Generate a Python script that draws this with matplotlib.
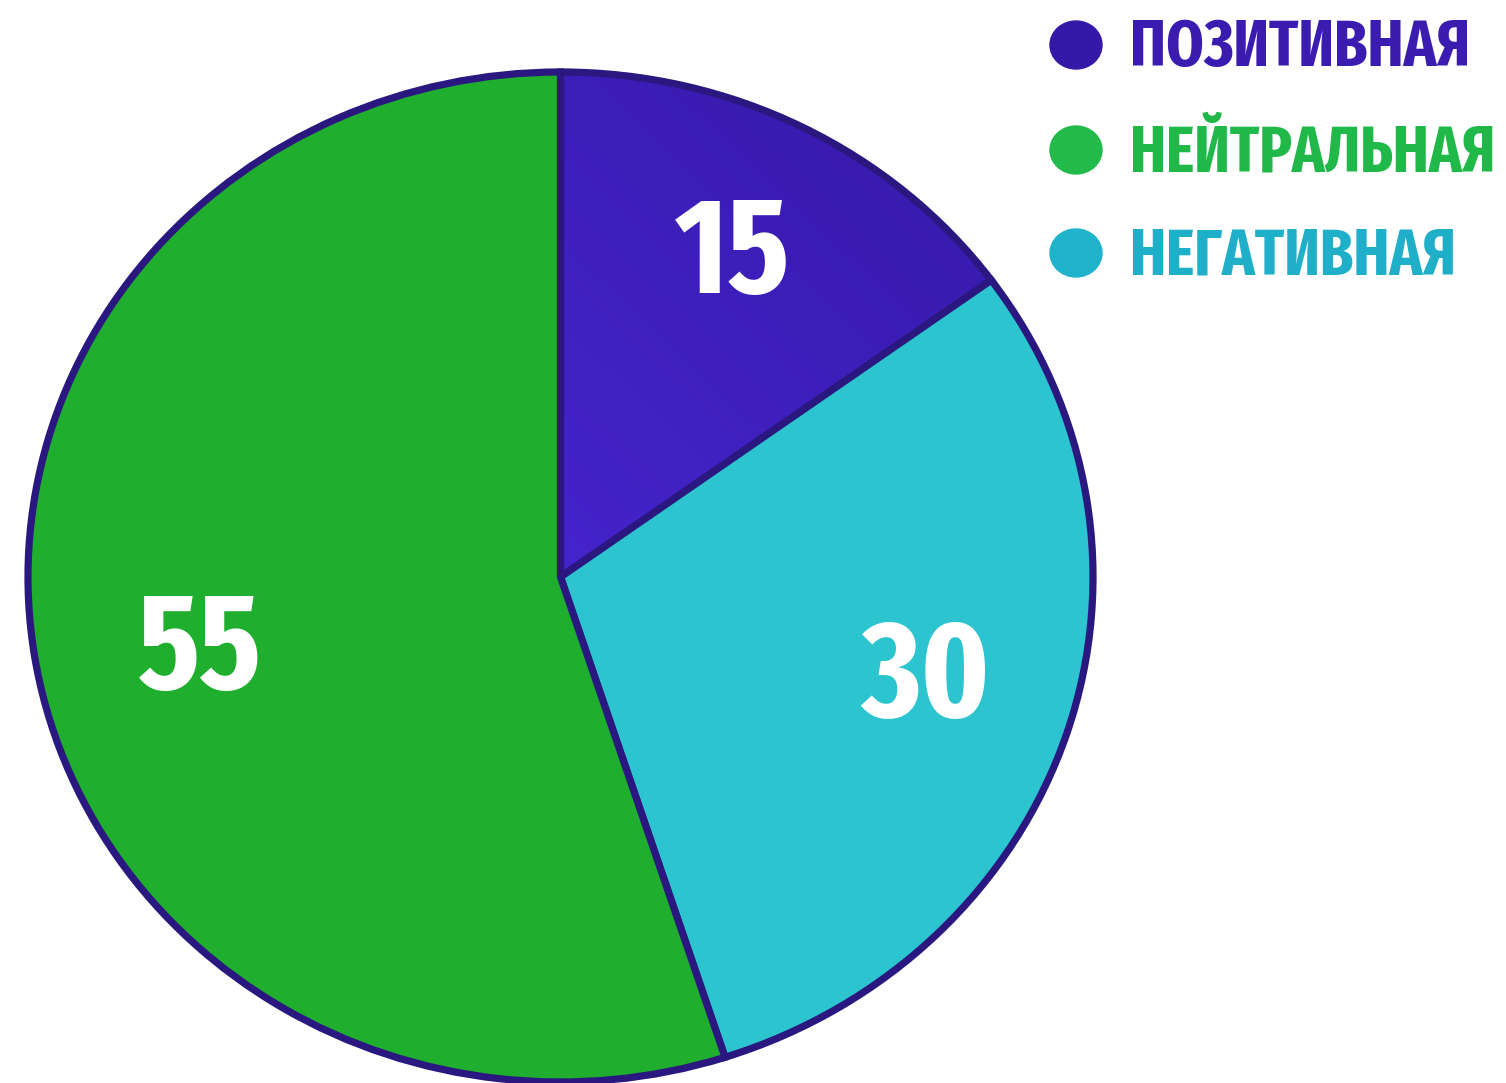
import matplotlib
matplotlib.use("Agg")
import matplotlib.pyplot as plt
from matplotlib.patches import Ellipse
from matplotlib.transforms import ScaledTranslation
import numpy as np

# data
labels = ["ПОЗИТИВНАЯ", "НЕЙТРАЛЬНАЯ", "НЕГАТИВНАЯ"]
values = [15, 55, 30]
pie_order = [0, 2, 1]  # clockwise from the top: positive, negative, neutral

wedge_colors = ["#3B20BE", "#1FAE2E", "#2CC5CF"]
dot_colors = ["#3418A8", "#22BB4A", "#20B3CC"]
text_colors = ["#3A1DB0", "#21B84A", "#1FAFC8"]
edge_color = "#2A1880"

FONT = ["Fira Sans Extra Condensed", "DejaVu Sans"]

W, H = 1506, 1083
fig = plt.figure(figsize=(W / 100, H / 100), dpi=100)

# pie axes, a bit wider than tall like the reference
ax = fig.add_axes([28 / W, 1 / H, 1065 / W, 1010 / H])
wedges, _ = ax.pie([values[i] for i in pie_order],
                   colors=[wedge_colors[i] for i in pie_order],
                   startangle=90, counterclock=False, radius=1,
                   wedgeprops=dict(edgecolor=edge_color, linewidth=5.2))
for w in wedges:
    w.set_clip_on(False)

# purple wedge has a soft gradient
grad = np.linspace(0, 1, 256).reshape(1, -1) * np.ones((256, 1))
grad = (grad + grad.T[::-1]) / 2
cmap = matplotlib.colors.LinearSegmentedColormap.from_list("p", ["#4424CC", "#3418A4"])
im = ax.imshow(grad, cmap=cmap, extent=(0, 1, 0, 1), origin="upper",
               zorder=wedges[0].get_zorder() - 0.05)
im.set_clip_path(wedges[0])
wedges[0].set_facecolor("none")

ax.set_aspect("auto")
ax.set_xlim(-1, 1)
ax.set_ylim(-1, 1)

# value labels: radius and small angle tweak per slice, nudged down so
# the digits look centred (va='center' counts the descender)
total = sum(values)
start = 90
label_r = {0: 0.731, 1: 0.689, 2: 0.710}
label_da = {0: 0.8, 1: 1.8, 2: 3.0}
nudge = ax.transData + ScaledTranslation(0, -10 / 100, fig.dpi_scale_trans)
for i in pie_order:
    span = values[i] / total * 360
    a = np.deg2rad(start - span / 2 + label_da[i])
    start -= span
    ax.text(label_r[i] * np.cos(a), label_r[i] * np.sin(a), str(values[i]),
            color="white", fontsize=98, fontweight="bold", family=FONT,
            ha="center", va="center", transform=nudge)

# legend in pixel coordinates
lax = fig.add_axes([0, 0, 1, 1])
lax.set_xlim(0, W)
lax.set_ylim(H, 0)
lax.axis("off")
rows = [45, 150, 253]
for i in range(3):
    lax.add_patch(Ellipse((1076, rows[i]), 52, 48, color=dot_colors[i]))
    lax.text(1130, rows[i] + 4, labels[i], color=text_colors[i], fontsize=47,
             fontweight="bold", family=FONT, ha="left", va="center")

fig.savefig("out.png", dpi=100)
